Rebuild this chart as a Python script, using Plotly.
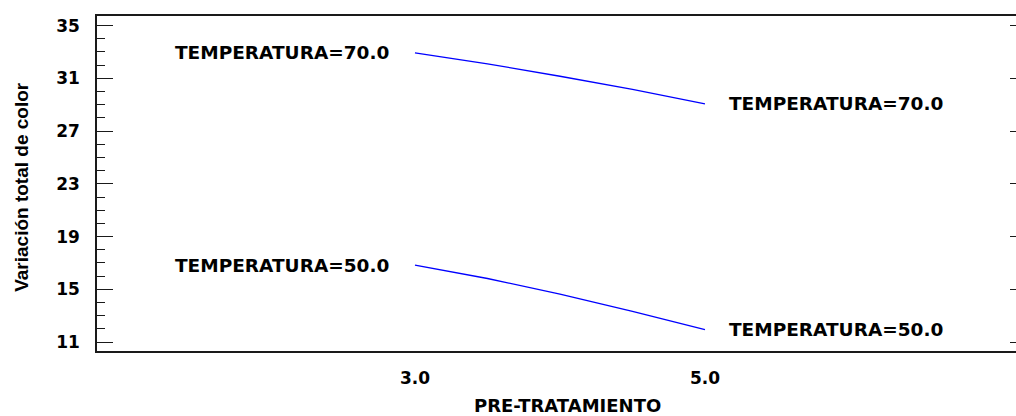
import plotly.graph_objects as go

# ---- data ----
pretratamiento = [3.0, 3.5, 4.0, 4.5, 5.0]
color_t70 = [32.93, 32.10, 31.16, 30.17, 29.06]
color_t50 = [16.84, 15.82, 14.64, 13.32, 11.94]
series_labels = ["TEMPERATURA=70.0", "TEMPERATURA=50.0"]
x_tickvals = [3.0, 5.0]
x_ticktext = ["3.0", "5.0"]
y_tickvals = [11, 15, 19, 23, 27, 31, 35]
x_title = "PRE-TRATAMIENTO"
y_title = "Variación total de color"

LBL_FONT = dict(family="DejaVu Sans", size=18.5, color="black", weight="bold")
TICK_FONT = dict(family="DejaVu Sans", size=17, color="black", weight="bold")
AX = "#1a1a1a"

fig = go.Figure()
for ys in (color_t70, color_t50):
    fig.add_trace(go.Scatter(x=pretratamiento, y=ys, mode="lines",
                             line=dict(color="#0000ff", width=1.3),
                             showlegend=False, hoverinfo="skip"))

annotations = []
for ys, lab in zip((color_t70, color_t50), series_labels):
    annotations.append(dict(x=pretratamiento[0], y=ys[0], text=lab, showarrow=False,
                            xanchor="right", yanchor="middle", xshift=-24,
                            font=LBL_FONT))
    annotations.append(dict(x=pretratamiento[-1], y=ys[-1], text=lab, showarrow=False,
                            xanchor="left", yanchor="middle", xshift=22,
                            font=LBL_FONT))

annotations.append(dict(xref="paper", yref="paper", x=0.5125, y=0, text=x_title,
                        showarrow=False, xanchor="center", yanchor="middle",
                        yshift=-54,
                        font=dict(family="DejaVu Sans", size=18, color="black", weight="bold")))
annotations.append(dict(xref="paper", yref="paper", x=0, y=0.49, text=y_title,
                        showarrow=False, xanchor="center", yanchor="middle",
                        xshift=-75, textangle=-90,
                        font=dict(family="Liberation Sans", size=19, color="black", weight="bold")))

YR = [10.32, 35.73]

fig.update_layout(
    width=1016, height=416,
    margin=dict(l=97, r=0, t=16, b=65),
    paper_bgcolor="white", plot_bgcolor="white",
    annotations=annotations,
    xaxis=dict(range=[0.807, 7.145], tickvals=x_tickvals, ticktext=x_ticktext,
               showgrid=False, zeroline=False, showline=True, mirror=True,
               linecolor=AX, linewidth=2, ticks="",
               tickfont=TICK_FONT, ticklabelstandoff=11),
    yaxis=dict(range=YR, tickvals=y_tickvals, showgrid=False, zeroline=False,
               showline=True, linecolor=AX, linewidth=1.5,
               ticks="inside", ticklen=16, tickwidth=1.3, tickcolor=AX,
               minor=dict(dtick=1, tick0=11, ticks="inside", ticklen=8,
                          tickwidth=1.3, tickcolor=AX, showgrid=False),
               tickfont=TICK_FONT, ticklabelstandoff=12),
    yaxis2=dict(range=YR, tickvals=y_tickvals, overlaying="y", side="right",
                showgrid=False, zeroline=False, showline=False,
                ticks="inside", ticklen=6, tickwidth=1.3, tickcolor=AX,
                showticklabels=False),
)
# invisible trace to activate the right-hand axis
fig.add_trace(go.Scatter(x=[pretratamiento[0]], y=[color_t70[0]], yaxis="y2",
                         mode="markers", marker=dict(opacity=0),
                         showlegend=False, hoverinfo="skip"))

fig.write_html("out.html", config={"displayModeBar": False},
               post_script="document.body.style.margin='0';document.body.style.overflow='hidden';")
